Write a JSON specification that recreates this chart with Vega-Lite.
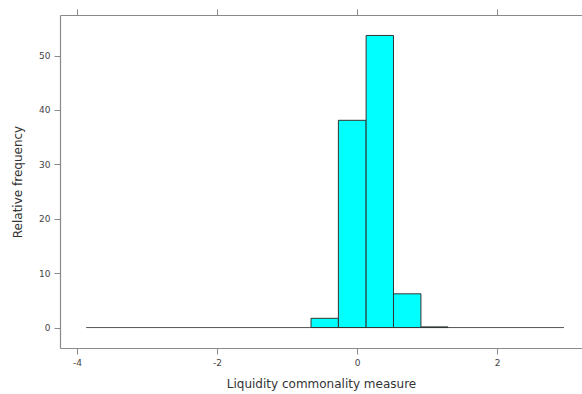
{
  "$schema": "https://vega.github.io/schema/vega-lite/v6.json",
  "width": 522,
  "height": 333,
  "autosize": "none",
  "padding": {"left": 60, "top": 15, "right": 0, "bottom": 46},
  "background": "white",
  "config": {
    "view": {"stroke": null},
    "font": "DejaVu Sans",
    "axis": {
      "grid": false,
      "domainColor": "#8a8a8a",
      "domainWidth": 1.2,
      "tickColor": "#8a8a8a",
      "tickSize": 6,
      "labelFont": "DejaVu Sans",
      "labelFontSize": 9,
      "labelColor": "#444444",
      "titleFont": "DejaVu Sans",
      "titleFontSize": 12,
      "titleFontWeight": "normal",
      "titleColor": "#333333"
    }
  },
  "datasets": {
    "bins": [
      {"start": -0.657, "end": -0.266, "freq": 1.7},
      {"start": -0.266, "end": 0.130, "freq": 38.1},
      {"start": 0.130, "end": 0.521, "freq": 53.7},
      {"start": 0.521, "end": 0.913, "freq": 6.2},
      {"start": 0.913, "end": 1.299, "freq": 0.12}
    ],
    "baseline": [
      {"from": -3.87, "to": 2.956, "level": 0}
    ]
  },
  "resolve": {"axis": {"x": "independent"}},
  "layer": [
    {
      "data": {"name": "baseline"},
      "mark": {"type": "rule", "color": "#555555", "strokeWidth": 1, "clip": true},
      "encoding": {
        "x": {
          "field": "from", "type": "quantitative",
          "scale": {"domain": [-4.243, 3.214], "nice": false, "zero": false},
          "axis": {
            "orient": "bottom", "values": [-4, -2, 0, 2], "labelExpr": "'' + datum.value",
            "title": "Liquidity commonality measure", "titlePadding": 11, "labelPadding": 4
          }
        },
        "x2": {"field": "to"},
        "y": {
          "field": "level", "type": "quantitative",
          "scale": {"domain": [-3.76, 57.46], "nice": false, "zero": false},
          "axis": {
            "orient": "left", "values": [0, 10, 20, 30, 40, 50],
            "title": "Relative frequency", "titlePadding": 14, "labelPadding": 4
          }
        }
      }
    },
    {
      "data": {"name": "bins"},
      "mark": {"type": "rect", "fill": "#00FFFF", "stroke": "#333333", "strokeWidth": 1, "clip": true},
      "encoding": {
        "x": {
          "field": "start", "type": "quantitative",
          "axis": {"orient": "top", "values": [-4, -2, 0, 2], "labels": false, "title": null}
        },
        "x2": {"field": "end"},
        "y": {"field": "freq", "type": "quantitative"},
        "y2": {"datum": 0}
      }
    }
  ]
}
